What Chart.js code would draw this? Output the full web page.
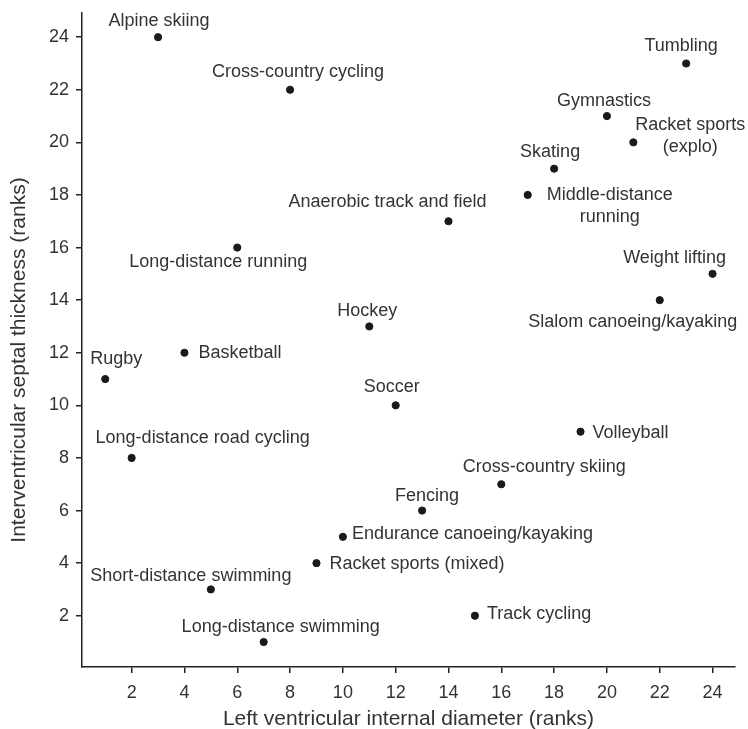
<!DOCTYPE html>
<html>
<head>
<meta charset="utf-8">
<script src="https://cdn.jsdelivr.net/npm/chart.js@4.4.0/dist/chart.umd.min.js"></script>
<style>
  html, body { margin: 0; padding: 0; background: #fff; }
  #wrap { width: 748px; height: 729px; }
</style>
</head>
<body>
<div id="wrap"><canvas id="grafico"></canvas></div>
<script>
// --- DADOS ---
const esportes = [
  'Alpine skiing', 'Cross-country cycling', 'Tumbling', 'Gymnastics',
  'Racket sports\n(explo)', 'Skating', 'Middle-distance\nrunning', 'Anaerobic track and field',
  'Long-distance running', 'Weight lifting', 'Slalom canoeing/kayaking', 'Hockey',
  'Basketball', 'Rugby', 'Soccer', 'Volleyball',
  'Long-distance road cycling', 'Cross-country skiing', 'Fencing', 'Endurance canoeing/kayaking',
  'Racket sports (mixed)', 'Short-distance swimming', 'Track cycling', 'Long-distance swimming'
];
const diametroVE = [3, 8, 23, 20, 21, 18, 17, 14, 6, 24, 22, 11, 4, 1, 12, 19, 2, 16, 13, 10, 9, 5, 15, 7];
const septoIV    = [24, 22, 23, 21, 20, 19, 18, 17, 16, 15, 14, 13, 12, 11, 10, 9, 8, 7, 6, 5, 4, 3, 2, 1];
const ticksX = [2, 4, 6, 8, 10, 12, 14, 16, 18, 20, 22, 24];
const ticksY = [2, 4, 6, 8, 10, 12, 14, 16, 18, 20, 22, 24];
const tituloX = 'Left ventricular internal diameter (ranks)';
const tituloY = 'Interventricular septal thickness (ranks)';

// posição dos rótulos em relação ao ponto: [dx, dy, alinhamento]
const posRotulos = [
  [1, -16, 'center'], [8, -18, 'center'], [-5, -17, 'center'], [-3, -15, 'center'],
  [57, -6, 'center'], [-4, -17, 'center'], [82, 11, 'center'], [-61, -19, 'center'],
  [-19, 14, 'center'], [-38, -16, 'center'], [-27, 22, 'center'], [-2, -15, 'center'],
  [14, 0, 'left'], [11, -20, 'center'], [-4, -18, 'center'], [12, 1, 'left'],
  [71, -20, 'center'], [43, -17, 'center'], [5, -15, 'center'], [9, -3, 'left'],
  [13, 1, 'left'], [-20, -13, 'center'], [12, -2, 'left'], [17, -15, 'center']
];

const FONTE = '"Liberation Sans", Arial, sans-serif';
const COR_TEXTO = '#333';

const pontos = diametroVE.map((x, i) => ({ x: x, y: septoIV[i] }));

// plugin simples: nomes dos esportes + títulos dos eixos
const rotulosPlugin = {
  id: 'rotulos',
  afterDatasetsDraw(chart) {
    const ctx = chart.ctx;
    const meta = chart.getDatasetMeta(0);
    const area = chart.chartArea;
    ctx.save();
    ctx.font = '18px ' + FONTE;
    ctx.fillStyle = COR_TEXTO;
    ctx.textBaseline = 'middle';
    meta.data.forEach((el, i) => {
      const [dx, dy, al] = posRotulos[i];
      const linhas = esportes[i].split('\n');
      ctx.textAlign = al;
      const alt = 22;
      const y0 = el.y + dy - (linhas.length - 1) * alt / 2;
      linhas.forEach((l, k) => ctx.fillText(l, el.x + dx, y0 + k * alt));
    });

    // títulos
    ctx.font = '21px ' + FONTE;
    ctx.textAlign = 'center';
    ctx.fillText(tituloX, (area.left + area.right) / 2, 719);
    ctx.translate(19, 360);
    ctx.rotate(-Math.PI / 2);
    ctx.fillText(tituloY, 0, 0);
    ctx.restore();
  }
};

// tira o espaço extra que o Chart.js reserva para os rótulos das pontas
function semPadding(s) {
  s.paddingTop = 0;
  s.paddingBottom = 0;
  s.paddingLeft = 0;
  s.paddingRight = 0;
}

new Chart(document.getElementById('grafico'), {
  type: 'scatter',
  data: {
    datasets: [{
      data: pontos,
      backgroundColor: '#1a1a1a',
      borderColor: '#1a1a1a',
      pointRadius: 3.6,
      pointHoverRadius: 3.6
    }]
  },
  options: {
    responsive: true,
    maintainAspectRatio: false,
    animation: false,
    layout: { padding: { top: 13, right: 13, left: 0, bottom: 0 } },
    plugins: { legend: { display: false }, tooltip: { enabled: false } },
    scales: {
      x: {
        type: 'linear',
        min: 0.12,
        max: 24.85,
        afterBuildTicks: (s) => { s.ticks = ticksX.map(v => ({ value: v })); },
        afterFit: (s) => { s.height = 62; semPadding(s); },
        border: { display: true, color: '#222', width: 1.5 },
        grid: { drawOnChartArea: false, drawTicks: true, tickLength: 6, color: '#222', lineWidth: 1.5 },
        ticks: { color: COR_TEXTO, font: { family: FONTE, size: 18 }, padding: 9, maxRotation: 0 }
      },
      y: {
        type: 'linear',
        min: 0.05,
        max: 24.92,
        afterBuildTicks: (s) => { s.ticks = ticksY.map(v => ({ value: v })); },
        afterFit: (s) => { s.width = 82; semPadding(s); },
        border: { display: true, color: '#222', width: 1.5 },
        grid: { drawOnChartArea: false, drawTicks: true, tickLength: 6, color: '#222', lineWidth: 1.5 },
        ticks: { color: COR_TEXTO, font: { family: FONTE, size: 18 }, padding: 7 }
      }
    }
  },
  plugins: [rotulosPlugin]
});
</script>
</body>
</html>
